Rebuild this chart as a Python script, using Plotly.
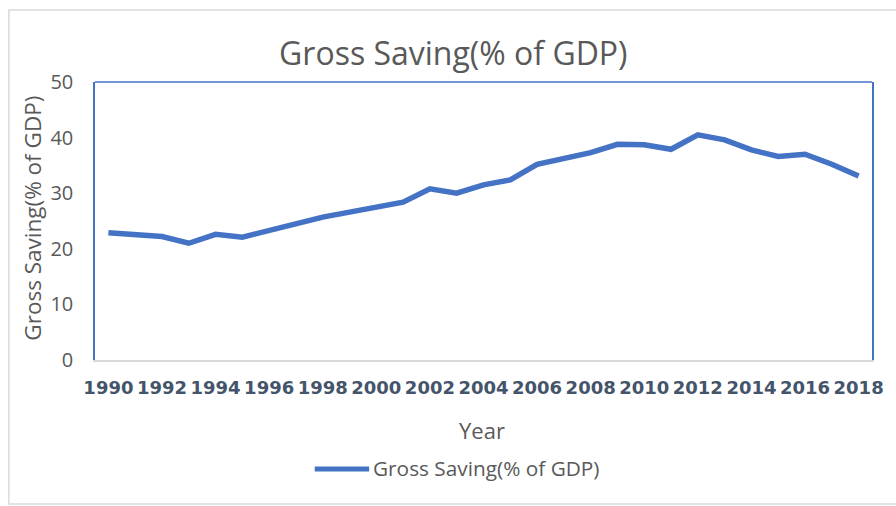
import plotly.graph_objects as go

# Gross saving as a share of GDP, 1990-2018
years = list(range(1990, 2019))
gross_saving = [
    22.9, 22.5, 22.2, 21.0, 22.6, 22.1, 23.3, 24.4, 25.7, 26.6,
    27.6, 28.4, 30.8, 30.0, 31.5, 32.4, 35.2, 36.3, 37.3, 38.8,
    38.7, 37.9, 40.5, 39.6, 37.8, 36.6, 37.0, 35.2, 33.1,
]
x_tick_years = list(range(1990, 2019, 2))
y_ticks = [0, 10, 20, 30, 40, 50]

title_text = "Gross Saving(% of GDP)"
series_name = "Gross Saving(% of GDP)"
x_title = "Year"
y_title = "Gross Saving(% of GDP)"

LINE_BLUE = "#4472C4"
TEXT_GREY = "#595959"
BORDER_GREY = "#D9D9D9"
TICK_SLATE = "#44546A"

W, H = 896, 506
L, R, T, B = 95, 16, 82, 146
plot_w = W - L - R
plot_h = H - T - B


def px_x(px):
    return (px - L) / plot_w


def px_y(py):
    return (H - B - py) / plot_h


fig = go.Figure()
fig.add_trace(go.Scatter(
    x=years, y=gross_saving, mode="lines", name=series_name,
    line=dict(color=LINE_BLUE, width=5.5), showlegend=False,
))

fig.update_layout(
    width=W, height=H,
    margin=dict(l=L, r=R, t=T, b=B),
    paper_bgcolor="white", plot_bgcolor="white",
    font=dict(family="Open Sans", color=TEXT_GREY),
    title=dict(text=title_text, font=dict(size=32, color=TEXT_GREY),
               x=px_x(457), xref="paper", xanchor="center",
               y=1 - 54 / H, yref="container", yanchor="middle"),
)

fig.update_xaxes(
    range=[1989.5, 2018.5], tickmode="array", tickvals=x_tick_years,
    ticktext=[str(y) for y in x_tick_years],
    tickfont=dict(family="DejaVu Sans", size=18, color=TICK_SLATE,
                  weight="bold"),
    ticks="outside", ticklen=0, ticklabelstandoff=11,
    showgrid=False, zeroline=False,
    showline=True, linecolor=BORDER_GREY, linewidth=1.5,
)
fig.update_yaxes(
    range=[0, 50], tickmode="array", tickvals=y_ticks,
    tickfont=dict(size=20, color=TEXT_GREY),
    ticks="outside", ticklen=0, ticklabelstandoff=16,
    showgrid=False, zeroline=False,
    showline=True, mirror=True, linecolor=LINE_BLUE, linewidth=1.5,
)

# top edge of the plot frame and the outer chart border
fig.add_shape(type="line", xref="paper", yref="paper", x0=0, x1=1, y0=1, y1=1,
              line=dict(color=LINE_BLUE, width=1.5))
fig.add_shape(type="rect", xref="paper", yref="paper",
              x0=px_x(8), x1=px_x(905), y0=px_y(504), y1=px_y(10),
              line=dict(color=BORDER_GREY, width=1.5), layer="below")

# axis titles
fig.add_annotation(text=x_title, xref="paper", yref="paper",
                   x=px_x(486), y=px_y(430), showarrow=False,
                   font=dict(size=22, color=TEXT_GREY),
                   xanchor="center", yanchor="middle")
fig.add_annotation(text=y_title, xref="paper", yref="paper",
                   x=px_x(31), y=px_y(218), showarrow=False, textangle=-90,
                   font=dict(size=22.5, color=TEXT_GREY),
                   xanchor="center", yanchor="middle")

# legend entry
fig.add_shape(type="line", xref="paper", yref="paper",
              x0=px_x(317), x1=px_x(372), y0=px_y(469), y1=px_y(469),
              line=dict(color=LINE_BLUE, width=5))
fig.add_annotation(text=series_name, xref="paper", yref="paper",
                   x=px_x(374), y=px_y(468), showarrow=False,
                   font=dict(size=20.8, color=TEXT_GREY),
                   xanchor="left", yanchor="middle")

fig.write_html("out.html")
